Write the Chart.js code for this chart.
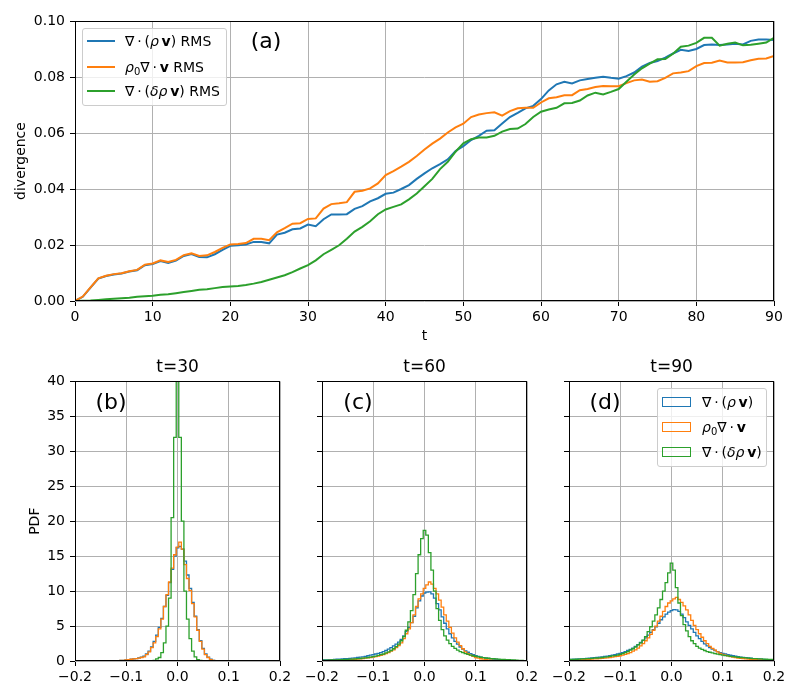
<!DOCTYPE html>
<html>
<head>
<meta charset="utf-8">
<script src="https://cdn.jsdelivr.net/npm/chart.js@4.4.1/dist/chart.umd.min.js"></script>
<style>
  body { margin: 0; background: #fff; font-family: 'DejaVu Sans', sans-serif; }
  #page { position: relative; width: 800px; height: 700px; overflow: hidden; }
  .box { position: absolute; }
  .leg { position: absolute; box-sizing: border-box; background: rgba(255,255,255,0.8);
         border: 1px solid #cccccc; border-radius: 3px; font-size: 14px; color: #000; }
  .row { position: absolute; left: 0; height: 20px; line-height: 20px; white-space: nowrap; }
  .ln { position: absolute; left: 4px; top: 9px; width: 28px; height: 2px; }
  .patch { position: absolute; left: 4px; top: 5px; width: 27px; height: 8px; border: 1px solid; }
  .tx { position: absolute; }
  sub { font-size: 10px; vertical-align: -3px; line-height: 0; }
</style>
</head>
<body>
<div id="page">
  <div class="box" style="left:0;top:0;width:800px;height:345px"><canvas id="rms"></canvas></div>
  <div class="box" style="left:0;top:350px;width:300px;height:350px"><canvas id="pdf30"></canvas></div>
  <div class="box" style="left:300px;top:350px;width:247px;height:350px"><canvas id="pdf60"></canvas></div>
  <div class="box" style="left:547px;top:350px;width:253px;height:350px"><canvas id="pdf90"></canvas></div>

  <div class="leg" style="left:82px;top:28px;width:145px;height:78px">
    <div class="row" style="top:2px"><span class="ln" style="background:#1f77b4"></span><span class="tx" style="left:42px">∇&thinsp;·&thinsp;(<i>ρ</i>&thinsp;<b>v</b>) RMS</span></div>
    <div class="row" style="top:28px"><span class="ln" style="background:#ff7f0e"></span><span class="tx" style="left:42px"><i>ρ</i><sub>0</sub>∇&thinsp;·&thinsp;<b>v</b> RMS</span></div>
    <div class="row" style="top:52px"><span class="ln" style="background:#2ca02c"></span><span class="tx" style="left:42px">∇&thinsp;·&thinsp;(<i>δ</i><i>ρ</i>&thinsp;<b>v</b>) RMS</span></div>
  </div>

  <div class="leg" style="left:657px;top:388px;width:110px;height:79px">
    <div class="row" style="top:3px"><span class="patch" style="border-color:#1f77b4"></span><span class="tx" style="left:44px">∇&thinsp;·&thinsp;(<i>ρ</i>&thinsp;<b>v</b>)</span></div>
    <div class="row" style="top:28px"><span class="patch" style="border-color:#ff7f0e"></span><span class="tx" style="left:44px"><i>ρ</i><sub>0</sub>∇&thinsp;·&thinsp;<b>v</b></span></div>
    <div class="row" style="top:53px"><span class="patch" style="border-color:#2ca02c"></span><span class="tx" style="left:44px">∇&thinsp;·&thinsp;(<i>δ</i><i>ρ</i>&thinsp;<b>v</b>)</span></div>
  </div>
</div>
<script>
// ---- data: RMS of the three divergence terms vs time ----
const times = Array.from({length: 91}, (_, i) => i);

const rmsRhoV = [
  0.0, 0.0015, 0.0048, 0.0080, 0.0089, 0.0095, 0.0098, 0.0105, 0.0110, 0.0128,
  0.0132, 0.0143, 0.0136, 0.0144, 0.0161, 0.0168, 0.0157, 0.0156, 0.0167, 0.0183,
  0.0197, 0.0199, 0.0202, 0.0211, 0.0211, 0.0206, 0.0237, 0.0244, 0.0256, 0.0259,
  0.0273, 0.0267, 0.0292, 0.0309, 0.0309, 0.0310, 0.0329, 0.0339, 0.0356, 0.0367,
  0.0383, 0.0387, 0.0400, 0.0414, 0.0436, 0.0456, 0.0474, 0.0489, 0.0506, 0.0536,
  0.0553, 0.0575, 0.0590, 0.0608, 0.0610, 0.0634, 0.0657, 0.0672, 0.0688, 0.0697,
  0.0721, 0.0752, 0.0774, 0.0783, 0.0777, 0.0788, 0.0793, 0.0797, 0.0801, 0.0797,
  0.0794, 0.0803, 0.0816, 0.0837, 0.0850, 0.0857, 0.0869, 0.0884, 0.0897, 0.0893,
  0.0900, 0.0914, 0.0916, 0.0914, 0.0916, 0.0919, 0.0916, 0.0929, 0.0934, 0.0934,
  0.0932
];
const rmsRho0DivV = [
  0.0, 0.0016, 0.0049, 0.0081, 0.0090, 0.0096, 0.0099, 0.0106, 0.0111, 0.0130,
  0.0134, 0.0145, 0.0139, 0.0147, 0.0164, 0.0170, 0.0161, 0.0163, 0.0175, 0.0190,
  0.0202, 0.0204, 0.0207, 0.0222, 0.0222, 0.0217, 0.0245, 0.0260, 0.0276, 0.0278,
  0.0293, 0.0295, 0.0330, 0.0346, 0.0349, 0.0353, 0.0390, 0.0394, 0.0402, 0.0420,
  0.0450, 0.0464, 0.0480, 0.0497, 0.0518, 0.0541, 0.0562, 0.0580, 0.0602, 0.0620,
  0.0633, 0.0657, 0.0666, 0.0671, 0.0674, 0.0662, 0.0678, 0.0688, 0.0690, 0.0690,
  0.0709, 0.0724, 0.0728, 0.0735, 0.0735, 0.0753, 0.0757, 0.0764, 0.0768, 0.0767,
  0.0767, 0.0778, 0.0788, 0.0791, 0.0783, 0.0785, 0.0797, 0.0813, 0.0816, 0.0821,
  0.0839, 0.0850, 0.0851, 0.0859, 0.0852, 0.0852, 0.0853, 0.0860, 0.0865, 0.0866,
  0.0875
];
const rmsDeltaRhoV = [
  0.0, 0.0001, 0.0002, 0.0004, 0.0006, 0.0008, 0.0010, 0.0012, 0.0015, 0.0017,
  0.0019, 0.0022, 0.0024, 0.0028, 0.0032, 0.0036, 0.0040, 0.0042, 0.0046, 0.0050,
  0.0052, 0.0054, 0.0057, 0.0062, 0.0068, 0.0076, 0.0084, 0.0092, 0.0103, 0.0116,
  0.0128, 0.0145, 0.0167, 0.0183, 0.0199, 0.0222, 0.0248, 0.0265, 0.0285, 0.0310,
  0.0327, 0.0336, 0.0345, 0.0363, 0.0384, 0.0410, 0.0436, 0.0471, 0.0497, 0.0533,
  0.0563, 0.0578, 0.0584, 0.0584, 0.0590, 0.0605, 0.0614, 0.0616, 0.0632, 0.0657,
  0.0676, 0.0684, 0.0690, 0.0706, 0.0707, 0.0716, 0.0734, 0.0744, 0.0738, 0.0747,
  0.0757, 0.0783, 0.0809, 0.0831, 0.0848, 0.0863, 0.0864, 0.0883, 0.0908, 0.0912,
  0.0922, 0.0940, 0.0940, 0.0912, 0.0919, 0.0923, 0.0913, 0.0915, 0.0919, 0.0923,
  0.0940
];

// ---- data: PDF histograms, bin centres -0.2 .. 0.2, width 0.005 ----
const BIN_HALF = 0.0025;
const binCenters = Array.from({length: 81}, (_, i) => +(-0.2 + 0.005 * i).toFixed(3));

const pdf30RhoV = [
  0, 0, 0, 0, 0, 0, 0, 0, 0, 0,
  0, 0, 0, 0, 0, 0, 0.05, 0.05, 0.1, 0.1,
  0.15, 0.2, 0.25, 0.3, 0.35, 0.45, 0.55, 0.7, 1.0, 1.4,
  2.0, 2.8, 3.7, 4.8, 6.1, 7.8, 9.4, 11.2, 13.1, 15.0,
  16.2, 16.4, 16.0, 14.3, 12.3, 10.4, 8.4, 6.4, 4.5, 2.9,
  1.8, 1.0, 0.55, 0.25, 0.1, 0.05, 0, 0, 0, 0,
  0, 0, 0, 0, 0, 0, 0, 0, 0, 0,
  0, 0, 0, 0, 0, 0, 0, 0, 0, 0,
  0
];
const pdf30Rho0DivV = [
  0, 0, 0, 0, 0, 0, 0, 0, 0, 0,
  0, 0, 0, 0, 0, 0, 0.05, 0.05, 0.1, 0.1,
  0.15, 0.2, 0.25, 0.3, 0.35, 0.4, 0.5, 0.6, 0.9, 1.3,
  1.9, 2.6, 3.5, 4.6, 6.0, 7.8, 9.5, 11.3, 13.3, 15.2,
  16.3, 17.0, 16.0, 13.8, 11.8, 10.1, 8.2, 6.3, 4.4, 2.8,
  1.7, 0.9, 0.5, 0.2, 0.1, 0.05, 0, 0, 0, 0,
  0, 0, 0, 0, 0, 0, 0, 0, 0, 0,
  0, 0, 0, 0, 0, 0, 0, 0, 0, 0,
  0
];
const pdf30DeltaRhoV = [
  0, 0, 0, 0, 0, 0, 0, 0, 0, 0,
  0, 0, 0, 0, 0, 0, 0, 0, 0, 0,
  0, 0, 0, 0, 0, 0, 0, 0, 0, 0,
  0, 0.1, 0.3, 0.5, 1.2, 2.6, 5.0, 9.0, 20.5, 32,
  48, 32, 20, 10, 6, 3.2, 1.4, 0.6, 0.2, 0.1,
  0, 0, 0, 0, 0, 0, 0, 0, 0, 0,
  0, 0, 0, 0, 0, 0, 0, 0, 0, 0,
  0, 0, 0, 0, 0, 0, 0, 0, 0, 0,
  0
];

const pdf60RhoV = [
  0.14, 0.15, 0.16, 0.18, 0.2, 0.22, 0.25, 0.27, 0.3, 0.32,
  0.35, 0.38, 0.42, 0.45, 0.5, 0.55, 0.6, 0.65, 0.75, 0.85,
  0.9, 1.0, 1.1, 1.2, 1.35, 1.5, 1.7, 1.9, 2.15, 2.4,
  2.7, 3.1, 3.6, 4.2, 4.8, 5.5, 6.4, 7.6, 8.6, 9.3,
  9.7, 9.85, 9.9, 9.6, 9.0, 8.2, 7.3, 6.3, 5.4, 4.6,
  3.9, 3.3, 2.8, 2.4, 2.0, 1.7, 1.45, 1.25, 1.05, 0.9,
  0.75, 0.65, 0.55, 0.48, 0.42, 0.36, 0.3, 0.26, 0.22, 0.19,
  0.16, 0.13, 0.11, 0.09, 0.07, 0.06, 0.05, 0.04, 0.03, 0.03,
  0.02
];
const pdf60Rho0DivV = [
  0.05, 0.05, 0.06, 0.07, 0.08, 0.09, 0.1, 0.12, 0.14, 0.16,
  0.18, 0.2, 0.22, 0.25, 0.28, 0.32, 0.36, 0.4, 0.45, 0.5,
  0.55, 0.62, 0.7, 0.8, 0.9, 1.05, 1.2, 1.4, 1.6, 1.9,
  2.2, 2.6, 3.2, 3.9, 4.6, 5.5, 6.6, 7.8, 8.9, 9.6,
  10.4, 10.9, 11.3, 11.0, 10.4, 9.6, 8.7, 7.7, 6.6, 5.7,
  4.8, 4.0, 3.3, 2.7, 2.2, 1.75, 1.3, 1.05, 0.85, 0.65,
  0.5, 0.4, 0.32, 0.26, 0.2, 0.16, 0.13, 0.1, 0.08, 0.06,
  0.05, 0.04, 0.03, 0.03, 0.02, 0.02, 0.01, 0.01, 0.01, 0.01,
  0.01
];
const pdf60DeltaRhoV = [
  0.1, 0.11, 0.12, 0.13, 0.14, 0.15, 0.16, 0.18, 0.2, 0.22,
  0.24, 0.26, 0.28, 0.3, 0.33, 0.36, 0.4, 0.44, 0.5, 0.56,
  0.62, 0.7, 0.8, 0.9, 1.0, 1.15, 1.3, 1.5, 1.75, 2.05,
  2.4, 2.9, 3.5, 4.4, 5.6, 7.2, 9.5, 12.5, 15.2, 17.5,
  18.7, 18.0, 15.5, 13.0, 10.0, 7.5, 5.8, 4.5, 3.6, 3.0,
  2.5, 2.1, 1.8, 1.55, 1.35, 1.2, 1.05, 0.95, 0.85, 0.75,
  0.68, 0.6, 0.54, 0.48, 0.43, 0.39, 0.35, 0.32, 0.29, 0.26,
  0.24, 0.22, 0.2, 0.18, 0.16, 0.14, 0.12, 0.1, 0.08, 0.06,
  0.05
];

const pdf90RhoV = [
  0.21, 0.23, 0.25, 0.27, 0.29, 0.31, 0.34, 0.37, 0.4, 0.43,
  0.47, 0.5, 0.55, 0.6, 0.65, 0.7, 0.78, 0.85, 0.92, 1.0,
  1.1, 1.2, 1.35, 1.5, 1.65, 1.85, 2.1, 2.35, 2.65, 2.95,
  3.3, 3.7, 4.1, 4.5, 4.9, 5.4, 5.9, 6.3, 6.7, 7.0,
  7.2, 7.35, 7.3, 7.1, 6.7, 6.2, 5.6, 5.1, 4.6, 4.1,
  3.6, 3.2, 2.8, 2.45, 2.15, 1.9, 1.7, 1.5, 1.35, 1.2,
  1.1, 1.0, 0.9, 0.82, 0.75, 0.68, 0.62, 0.56, 0.51, 0.47,
  0.43, 0.39, 0.35, 0.32, 0.29, 0.26, 0.23, 0.2, 0.18, 0.16,
  0.14
];
const pdf90Rho0DivV = [
  0.13, 0.14, 0.15, 0.16, 0.17, 0.19, 0.21, 0.23, 0.25, 0.27,
  0.29, 0.32, 0.35, 0.38, 0.42, 0.46, 0.5, 0.56, 0.62, 0.68,
  0.75, 0.85, 0.95, 1.05, 1.2, 1.4, 1.6, 1.85, 2.15, 2.5,
  2.9, 3.3, 3.8, 4.4, 5.0, 5.7, 6.4, 7.1, 7.8, 8.3,
  8.6, 8.9, 9.1, 8.8, 8.4, 7.9, 7.3, 6.6, 5.8, 5.1,
  4.5, 3.9, 3.4, 2.9, 2.5, 2.1, 1.8, 1.55, 1.3, 1.1,
  0.95, 0.82, 0.72, 0.63, 0.55, 0.48, 0.42, 0.37, 0.33, 0.29,
  0.26, 0.23, 0.2, 0.18, 0.16, 0.14, 0.12, 0.11, 0.1, 0.09,
  0.08
];
const pdf90DeltaRhoV = [
  0.22, 0.23, 0.24, 0.25, 0.27, 0.29, 0.31, 0.33, 0.35, 0.37,
  0.4, 0.43, 0.46, 0.5, 0.55, 0.6, 0.66, 0.72, 0.78, 0.85,
  0.95, 1.05, 1.2, 1.35, 1.55, 1.75, 2.0, 2.3, 2.6, 3.0,
  3.5, 4.2, 4.9, 5.7, 6.6, 7.6, 8.8, 10.0, 11.2, 12.6,
  14.0, 13.0, 10.5, 8.3, 6.5, 5.2, 4.3, 3.5, 2.9, 2.5,
  2.1, 1.85, 1.65, 1.5, 1.35, 1.25, 1.15, 1.05, 0.97, 0.9,
  0.84, 0.78, 0.72, 0.67, 0.62, 0.58, 0.54, 0.5, 0.47, 0.44,
  0.41, 0.38, 0.35, 0.33, 0.31, 0.29, 0.27, 0.25, 0.23, 0.22,
  0.2
];

const BLUE = '#1f77b4', ORANGE = '#ff7f0e', GREEN = '#2ca02c';
const GRID = '#b0b0b0';

Chart.defaults.font.family = "'DejaVu Sans', sans-serif";
Chart.defaults.font.size = 14;
Chart.defaults.color = '#000';

// black box round the plot area, like matplotlib spines
const framePlugin = {
  id: 'frame',
  afterDraw(chart) {
    const {ctx, chartArea: a} = chart;
    ctx.save();
    ctx.strokeStyle = '#000';
    ctx.lineWidth = 1;
    ctx.strokeRect(Math.round(a.left) + 0.5, Math.round(a.top) + 0.5,
                   Math.round(a.right - a.left) - 1, Math.round(a.bottom - a.top) - 1);
    ctx.restore();
  }
};
// "(a)", "(b)" ... inside each panel
const panelLabelPlugin = {
  id: 'panelLabel',
  afterDraw(chart, args, opts) {
    if (!opts.text) return;
    const {ctx, chartArea: a} = chart;
    ctx.save();
    ctx.font = "22px 'DejaVu Sans'";
    ctx.fillStyle = '#000';
    ctx.textAlign = 'center';
    ctx.textBaseline = 'middle';
    ctx.fillText(opts.text, a.left + opts.dx, a.top + opts.dy);
    ctx.restore();
  }
};
Chart.register(framePlugin, panelLabelPlugin);

const gridOpts = {color: GRID, lineWidth: 1, tickColor: '#000', tickLength: 5, tickWidth: 1};

function lineSet(label, values, color, order) {
  return {
    label, order, borderColor: color, borderWidth: 2, pointRadius: 0, fill: false,
    data: times.map((t, i) => ({x: t, y: values[i]}))
  };
}

new Chart(document.getElementById('rms'), {
  type: 'line',
  data: {
    datasets: [
      lineSet('∇·(ρv) RMS', rmsRhoV, BLUE, 3),
      lineSet('ρ0∇·v RMS', rmsRho0DivV, ORANGE, 2),
      lineSet('∇·(δρv) RMS', rmsDeltaRhoV, GREEN, 1)
    ]
  },
  options: {
    responsive: true, maintainAspectRatio: false, animation: false,
    layout: {padding: {top: 21, right: 26, left: 0, bottom: 0}},
    plugins: {
      legend: {display: false}, tooltip: {enabled: false},
      panelLabel: {text: '(a)', dx: 191, dy: 21}
    },
    scales: {
      x: {
        type: 'linear', min: 0, max: 90,
        ticks: {stepSize: 10, padding: 3, maxRotation: 0},
        grid: gridOpts, border: {display: false},
        title: {display: true, text: 't', padding: 0},
        afterFit: s => { s.height = 44; }
      },
      y: {
        min: 0, max: 0.1,
        ticks: {stepSize: 0.02, padding: 5, callback: v => v.toFixed(2)},
        grid: gridOpts, border: {display: false},
        title: {display: true, text: 'divergence', padding: {top: 13, bottom: 0}},
        afterFit: s => { s.width = 75; }
      }
    }
  }
});

function histPoints(heights) {
  const pts = [];
  heights.forEach((h, i) => {
    pts.push({x: binCenters[i] - BIN_HALF, y: h});
    pts.push({x: binCenters[i] + BIN_HALF, y: h});
  });
  return pts;
}

function histSet(label, heights, color, order) {
  return {label, order, borderColor: color, borderWidth: 1.3, pointRadius: 0, fill: false,
          data: histPoints(heights)};
}

function makeHist(id, title, label, series, yAxisWidth, padRight, showY) {
  new Chart(document.getElementById(id), {
    type: 'line',
    data: {
      datasets: [
        histSet('∇·(ρv)', series[0], BLUE, 3),
        histSet('ρ0∇·v', series[1], ORANGE, 2),
        histSet('∇·(δρv)', series[2], GREEN, 1)
      ]
    },
    options: {
      responsive: true, maintainAspectRatio: false, animation: false,
      layout: {padding: {top: 0, right: padRight, left: 0, bottom: 0}},
      plugins: {
        legend: {display: false}, tooltip: {enabled: false},
        title: {display: true, text: title, fullSize: false, font: {size: 17, weight: 'normal'},
                color: '#000', padding: {top: 7, bottom: 4}},
        panelLabel: {text: label, dx: 36, dy: 22}
      },
      scales: {
        x: {
          type: 'linear', min: -0.2, max: 0.2,
          ticks: {stepSize: 0.1, padding: 3, maxRotation: 0, autoSkip: false,
                  callback: v => { const r = Math.round(v * 10) / 10; return (r < 0 ? '\u2212' : '') + Math.abs(r).toFixed(1); }},
          grid: gridOpts, border: {display: false},
          afterFit: s => { s.height = 39; }
        },
        y: {
          min: 0, max: 40,
          ticks: {stepSize: 5, padding: 5, callback: v => showY ? String(v) : ''},
          grid: gridOpts, border: {display: false},
          title: {display: showY, text: 'PDF', padding: {top: 27, bottom: 0}},
          afterFit: s => { s.width = yAxisWidth; }
        }
      }
    }
  });
}

makeHist('pdf30', 't=30', '(b)', [pdf30RhoV, pdf30Rho0DivV, pdf30DeltaRhoV], 75, 20, true);
makeHist('pdf60', 't=60', '(c)', [pdf60RhoV, pdf60Rho0DivV, pdf60DeltaRhoV], 22, 20, false);
makeHist('pdf90', 't=90', '(d)', [pdf90RhoV, pdf90Rho0DivV, pdf90DeltaRhoV], 22, 26, false);
</script>
</body>
</html>
